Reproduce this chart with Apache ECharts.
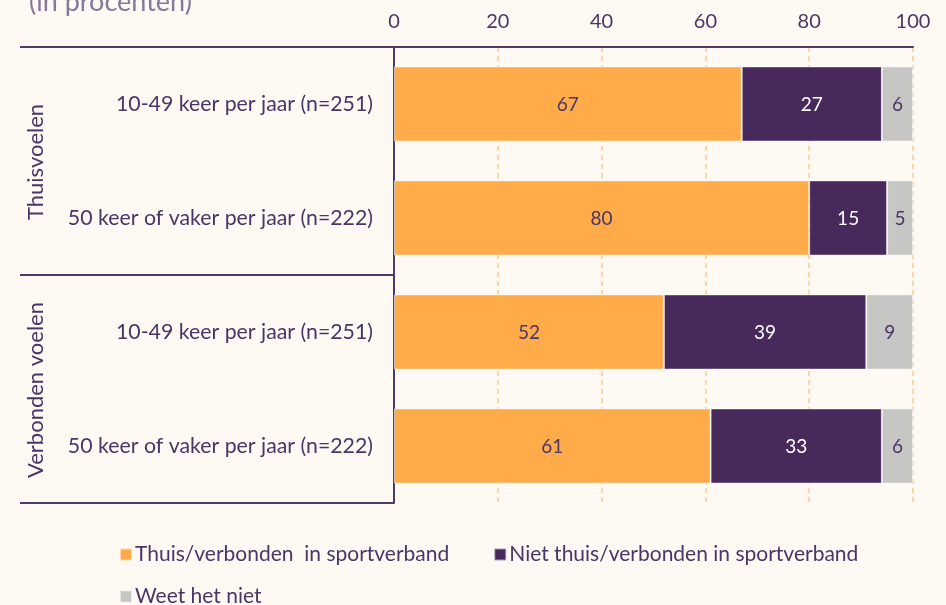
<!DOCTYPE html>
<html>
<head>
<meta charset="utf-8">
<title>Sportverband</title>
<script src="https://cdn.jsdelivr.net/npm/echarts@6/dist/echarts.min.js"></script>
<style>
  html, body { margin: 0; padding: 0; background: #fef9f3; }
  #chart { width: 946px; height: 605px; }
</style>
</head>
<body>
<div id="chart"></div>
<script>
// data
var categories = [
  '10-49 keer per jaar (n=251)',
  '50 keer of vaker per jaar (n=222)',
  '10-49 keer per jaar (n=251)',
  '50 keer of vaker per jaar (n=222)'
];
var groups = ['Thuisvoelen', 'Verbonden voelen'];
var seriesNames = ['Thuis/verbonden  in sportverband', 'Niet thuis/verbonden in sportverband', 'Weet het niet'];
var thuisValues = [67, 80, 52, 61];
var nietThuisValues = [27, 15, 39, 33];
var weetNietValues = [6, 5, 9, 6];
var xTicks = [0, 20, 40, 60, 80, 100];

var purple = '#48295c';
var textColor = '#4a3566';
var font = 'Lato';

var myChart = echarts.init(document.getElementById('chart'));

function barSeries(name, data, color, labelColor){
	return {
		name: name,
		type: 'bar',
		stack: 'total',
		data: data,
		barCategoryGap: '34%',
		itemStyle: { color: color, borderColor: 'rgba(255,255,255,0.55)', borderWidth: 1 },
		label: {
			show: true,
			position: 'inside',
			offset: [0, 1],
			color: labelColor,
			fontFamily: font,
			fontSize: 19
		}
	};
}

var lineStyle = { stroke: '#4f3a68', lineWidth: 2 };

myChart.setOption({
	backgroundColor: '#fef9f3',
	animation: false,
	title: {
		text: '(in procenten)',
		left: 24,
		top: -16,
		textStyle: { color: '#85789a', fontFamily: font, fontSize: 27, fontWeight: 'normal' }
	},
	grid: { left: 394, right: 33, top: 47, bottom: 102, containLabel: false },
	legend: [{
		data: seriesNames.slice(0, 2),
		left: 114,
		top: 539,
		icon: 'rect',
		itemWidth: 12,
		itemHeight: 12,
		itemGap: 44,
		textStyle: { color: textColor, fontFamily: font, fontSize: 21, padding: [0, 0, 0, -2] }
	}, {
		data: seriesNames.slice(2),
		left: 114,
		top: 581,
		icon: 'rect',
		itemWidth: 12,
		itemHeight: 12,
		textStyle: { color: textColor, fontFamily: font, fontSize: 21, padding: [0, 0, 0, -2] }
	}],
	xAxis: {
		type: 'value',
		position: 'top',
		min: 0,
		max: 100,
		interval: 20,
		axisLine: { show: true, lineStyle: { color: '#4f3a68', width: 2 } },
		axisTick: { show: false },
		axisLabel: {
			margin: 15,
			color: textColor,
			fontFamily: font,
			fontSize: 20,
			formatter: function(v){ return xTicks.indexOf(v) >= 0 ? String(v) : ''; }
		},
		splitLine: { show: true, lineStyle: { color: '#ffc98c', type: [5, 4], width: 1.5 } }
	},
	yAxis: {
		type: 'category',
		inverse: true,
		data: categories,
		axisLine: { show: true, lineStyle: { color: '#4f3a68', width: 2 } },
		axisTick: { show: false },
		axisLabel: { margin: 21, color: textColor, fontFamily: font, fontSize: 21.3 }
	},
	series: [
		barSeries(seriesNames[0], thuisValues, '#ffab4a', textColor),
		barSeries(seriesNames[1], nietThuisValues, purple, '#ffffff'),
		barSeries(seriesNames[2], weetNietValues, '#c6c6c4', textColor)
	],
	graphic: [
		{ type: 'line', shape: { x1: 20, y1: 47, x2: 394, y2: 47 }, style: lineStyle, z: 10 },
		{ type: 'line', shape: { x1: 20, y1: 275, x2: 394, y2: 275 }, style: lineStyle, z: 10 },
		{ type: 'line', shape: { x1: 20, y1: 503, x2: 394, y2: 503 }, style: lineStyle, z: 10 },
		{ type: 'text', x: 36, y: 162, rotation: Math.PI / 2,
		  style: { text: groups[0], fill: textColor, font: '22px Lato', align: 'center', verticalAlign: 'middle' } },
		{ type: 'text', x: 36, y: 390, rotation: Math.PI / 2,
		  style: { text: groups[1], fill: textColor, font: '22px Lato', align: 'center', verticalAlign: 'middle' } }
	]
});
</script>
</body>
</html>
